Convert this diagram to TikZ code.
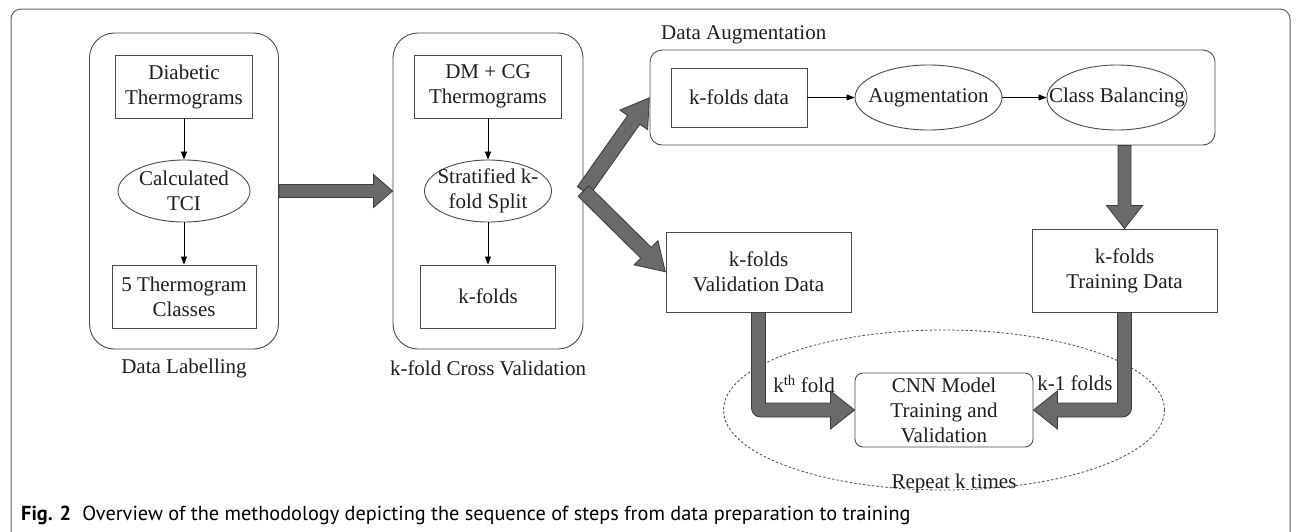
\documentclass[tikz,border=0pt]{standalone}
\usepackage{fontspec}
\setmainfont{Liberation Serif}
\newfontfamily\capfont{PT Sans}
\usetikzlibrary{shapes.geometric,arrows.meta,calc}
\definecolor{boxc}{HTML}{4A4A4A}
\definecolor{arrfill}{HTML}{6A6A6A}
\definecolor{arredge}{HTML}{3A3A3A}
\definecolor{txtc}{HTML}{1E1E1E}
\definecolor{framec}{HTML}{606060}
\newcommand\dfont{\fontsize{21}{25}\selectfont}
\makeatletter
\newcommand{\blockarrow}[5]{%
  \pgfmathanglebetweenpoints{\pgfpointanchor{#1}{center}}{\pgfpointanchor{#2}{center}}%
  \edef\ba@ang{\pgfmathresult}%
  \pgfpointdiff{\pgfpointanchor{#1}{center}}{\pgfpointanchor{#2}{center}}%
  \pgfmathveclen{\the\pgf@x}{\the\pgf@y}%
  \edef\ba@len{\pgfmathresult}%
  \begin{scope}[shift={(#1)}, rotate=\ba@ang]
    \filldraw[bigarrow] (0,#3) -- (\ba@len-#5,#3) -- (\ba@len-#5,#4) -- (\ba@len,0)
      -- (\ba@len-#5,-#4) -- (\ba@len-#5,-#3) -- (0,-#3) -- cycle;
  \end{scope}
}
\makeatother
\begin{document}
\begin{tikzpicture}[x=1pt,y=-1pt,
  sz/.style 2 args={minimum width=#1pt, minimum height=#2pt},
  box/.style={draw=boxc, line width=0.9pt, align=center, inner sep=1pt, font=\dfont, text=txtc},
  ell/.style={draw=boxc, line width=0.9pt, ellipse, inner sep=0pt},
  panel/.style={draw=boxc, line width=0.9pt, rounded corners=25pt, inner sep=0pt},
  txt/.style={font=\dfont, text=txtc, align=center, inner sep=0pt},
  thinarrow/.style={draw=black, line width=0.8pt, -{Triangle[length=8pt,width=6pt]}},
  bigarrow/.style={fill=arrfill, draw=arredge, line width=0.8pt, line join=miter}]
\useasboundingbox (0,0) rectangle (1296,531);
\draw[framec, line width=1pt, rounded corners=10pt] (11,9) rectangle (1290,560);

% Data labelling panel
\node[panel, sz={189}{316}] (lp) at (184,191) {};
\node[box, sz={137}{63}] (d1) at (184,86.5) {Diabetic\\Thermograms};
\node[ell, sz={132}{62}] (e1) at (184,191) {};
\node[txt] at (e1) {Calculated\\TCI};
\node[box, sz={144}{63}] (c1) at (184,296.5) {5 Thermogram\\Classes};
\node[txt] (lab1) at (184,368) {Data Labelling};
\draw[thinarrow] (d1.south) -- (e1.north);
\draw[thinarrow] (e1.south) -- (c1.north);

% k-fold panel
\node[panel, sz={190}{316}] (mp) at (488,191) {};
\node[box, sz={147}{63}] (d2) at (488,86.5) {DM + CG\\Thermograms};
\node[ell, sz={127}{62}] (e2) at (488,191) {};
\node[txt] at (e2) {Stratified k-\\fold Split};
\node[box, sz={135}{63}] (k2) at (488,296.5) {k-folds};
\node[txt] (lab2) at (488,368) {k-fold Cross Validation};
\draw[thinarrow] (d2.south) -- (e2.north);
\draw[thinarrow] (e2.south) -- (k2.north);

% Data augmentation
\node[txt, anchor=west] (dalab) at (661,35) {Data Augmentation};
\node[draw=boxc, line width=0.9pt, rounded corners=12pt, sz={565}{95}, inner sep=0pt] (da) at (932.5,97.5) {};
\node[box, sz={136}{59}] (kd) at (739,97.5) {k-folds data};
\node[ell, sz={147}{65}] (aug) at (928.5,97.5) {};
\node[txt] at (aug) {Augmentation};
\node[ell, sz={140}{65}] (cb) at (1117,97.5) {};
\node[txt] at (cb) {Class Balancing};
\draw[thinarrow] (kd.east) -- (aug.west);
\draw[thinarrow] (aug.east) -- (cb.west);

% validation / training
\node[box, sz={185}{80}] (vb) at (758.5,272) {k-folds\\Validation Data};
\node[box, sz={185}{83}] (tb) at (1124.5,270.5) {k-folds\\Training Data};

% CNN
\node[draw=boxc, line width=0.9pt, rounded corners=8pt, sz={178}{74}, align=center, inner sep=0pt, font=\dfont, text=txtc] (cnn) at (944,410) {CNN Model\\Training and\\Validation};
\node[draw=boxc, line width=0.8pt, dash pattern=on 2.5pt off 2pt, ellipse, sz={441}{160}, inner sep=0pt] (rep) at (944,410) {};
\node[txt] (replab) at (954,483) {Repeat k times};
\node[txt] (kth) at (804,384) {k\textsuperscript{th} fold};
\node[txt] (km1) at (1075,383) {k-1 folds};

% big arrows
\coordinate (a1s) at (lp.east);
\coordinate (a1e) at (mp.west);
\blockarrow{a1s}{a1e}{6.5}{16.5}{19}
\coordinate (sp) at (mp.east);
\coordinate (spu) at (da.west);
\coordinate (spd) at (vb.west);
\blockarrow{sp}{spu}{7.5}{17}{27}
\blockarrow{sp}{spd}{7.5}{17}{27}
\coordinate (dn1) at (tb.north |- da.south);
\coordinate (dn2) at (tb.north);
\blockarrow{dn1}{dn2}{6.5}{18}{23}

\filldraw[bigarrow]
  ($(vb.south)+(-7,0)$) [rounded corners=9pt] -- ($(vb.south |- cnn.west)+(-7,7)$) [sharp corners]
  -- ($(cnn.west)+(-24,7)$) -- ($(cnn.west)+(-24,19)$) -- (cnn.west) -- ($(cnn.west)+(-24,-19)$)
  -- ($(cnn.west)+(-24,-7)$) -- ($(vb.south |- cnn.west)+(7,-7)$) -- ($(vb.south)+(7,0)$) -- cycle;
\filldraw[bigarrow]
  ($(tb.south)+(7,0)$) [rounded corners=9pt] -- ($(tb.south |- cnn.east)+(7,7)$) [sharp corners]
  -- ($(cnn.east)+(24,7)$) -- ($(cnn.east)+(24,19)$) -- (cnn.east) -- ($(cnn.east)+(24,-19)$)
  -- ($(cnn.east)+(24,-7)$) -- ($(tb.south |- cnn.east)+(-7,-7)$) -- ($(tb.south)+(-7,0)$) -- cycle;

% caption
\node[anchor=base west, inner sep=0pt, font=\capfont\fontsize{20.3}{24}\selectfont, text=black] (cap) at (21,520)
  {\textbf{Fig. 2}\hspace{0.55em}Overview of the methodology depicting the sequence of steps from data preparation to training};
\end{tikzpicture}
\end{document}
